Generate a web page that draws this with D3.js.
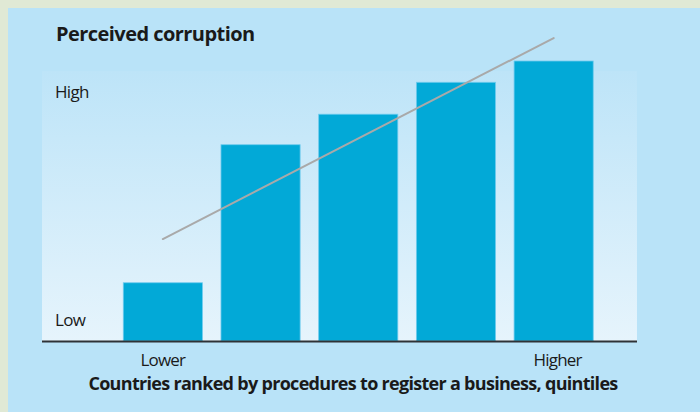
<!DOCTYPE html>
<html>
<head>
<meta charset="utf-8">
<script src="https://cdn.jsdelivr.net/npm/d3@7"></script>
<style>
  html, body { margin: 0; padding: 0; background: #e0e9d5; }
  svg { display: block; }
  text { font-family: "Open Sans", "Noto Sans", sans-serif; fill: #1a1a1a; }
</style>
</head>
<body>
<div id="chart"></div>
<script>
// quintiles of countries, ranked by procedures to register a business
const quintiles = ['Q1', 'Q2', 'Q3', 'Q4', 'Q5'];
// perceived corruption index (0 = low, 100 = high)
const corruption = [20.8, 70.1, 81.0, 92.4, 100];
// fitted trend line, start and end
const trendQuintiles = ['Q1', 'Q5'];
const trendValues = [36.4, 108.2];
const yLabels = ['Low', 'High'];
const yLabelValues = [5.4, 86.8];
const xLabels = ['Lower', 'Higher'];

const W = 700, H = 412;
const svg = d3.select('#chart')
  .append('svg')
  .attr('width', W)
  .attr('height', H);

const defs = svg.append('defs');
const grad = defs.append('linearGradient')
  .attr('id', 'plotbg')
  .attr('x1', 0).attr('y1', 0).attr('x2', 0).attr('y2', 1);
grad.append('stop').attr('offset', '0%').attr('stop-color', '#bde4f8');
grad.append('stop').attr('offset', '100%').attr('stop-color', '#e6f4fc');

// blue panel
svg.append('rect')
  .attr('x', 8).attr('y', 8)
  .attr('width', W - 8).attr('height', H - 8)
  .attr('fill', '#b9e3f8');

const plot = { left: 42, right: 637, top: 71, bottom: 341 };

svg.append('rect')
  .attr('x', plot.left).attr('y', plot.top)
  .attr('width', plot.right - plot.left)
  .attr('height', plot.bottom - plot.top)
  .attr('fill', 'url(#plotbg)');

const x = d3.scaleBand()
  .domain(quintiles)
  .range([114, 602.5])
  .paddingInner(0.19)
  .paddingOuter(0.095);

const y = d3.scaleLinear()
  .domain([0, 100])
  .range([plot.bottom, 61]);

svg.selectAll('rect.bar')
  .data(corruption)
  .enter()
  .append('rect')
  .attr('class', 'bar')
  .attr('x', (d, i) => x(quintiles[i]))
  .attr('y', d => y(d))
  .attr('width', x.bandwidth())
  .attr('height', d => y(0) - y(d))
  .attr('fill', '#02a9d7')
  .attr('stroke', '#6fcbee')
  .attr('stroke-width', 0.8);

// trend line
const line = d3.line()
  .x((d, i) => x(trendQuintiles[i]) + x.bandwidth() / 2)
  .y(d => y(d));

svg.append('path')
  .datum(trendValues)
  .attr('d', line)
  .attr('fill', 'none')
  .attr('stroke', '#a9a9a9')
  .attr('stroke-width', 2)
  .attr('stroke-linecap', 'round');

// baseline
svg.append('line')
  .attr('x1', plot.left).attr('x2', plot.right)
  .attr('y1', plot.bottom + 0.5).attr('y2', plot.bottom + 0.5)
  .attr('stroke', '#2e3236')
  .attr('stroke-width', 2);

// y labels
svg.selectAll('text.ylab')
  .data(yLabels)
  .enter()
  .append('text')
  .attr('class', 'ylab')
  .attr('x', 55)
  .attr('y', (d, i) => y(yLabelValues[i]))
  .attr('font-size', 17)
  .attr('letter-spacing', -0.7)
  .text(d => d);

// x end labels
const xLabelQuintiles = [quintiles[0], quintiles[quintiles.length - 1]];
svg.selectAll('text.xlab')
  .data(xLabels)
  .enter()
  .append('text')
  .attr('class', 'xlab')
  .attr('x', (d, i) => x(xLabelQuintiles[i]) + x.bandwidth() / 2 + i * 4)
  .attr('y', 366)
  .attr('text-anchor', 'middle')
  .attr('font-size', 17)
  .attr('letter-spacing', -0.8)
  .text(d => d);

svg.append('text')
  .attr('x', 56)
  .attr('y', 41)
  .attr('font-size', 20)
  .attr('font-weight', 'bold')
  .attr('letter-spacing', -0.55)
  .text('Perceived corruption');

svg.append('text')
  .attr('x', 353)
  .attr('y', 390)
  .attr('text-anchor', 'middle')
  .attr('font-size', 18)
  .attr('font-weight', 'bold')
  .attr('letter-spacing', -0.7)
  .text('Countries ranked by procedures to register a business, quintiles');
</script>
</body>
</html>
